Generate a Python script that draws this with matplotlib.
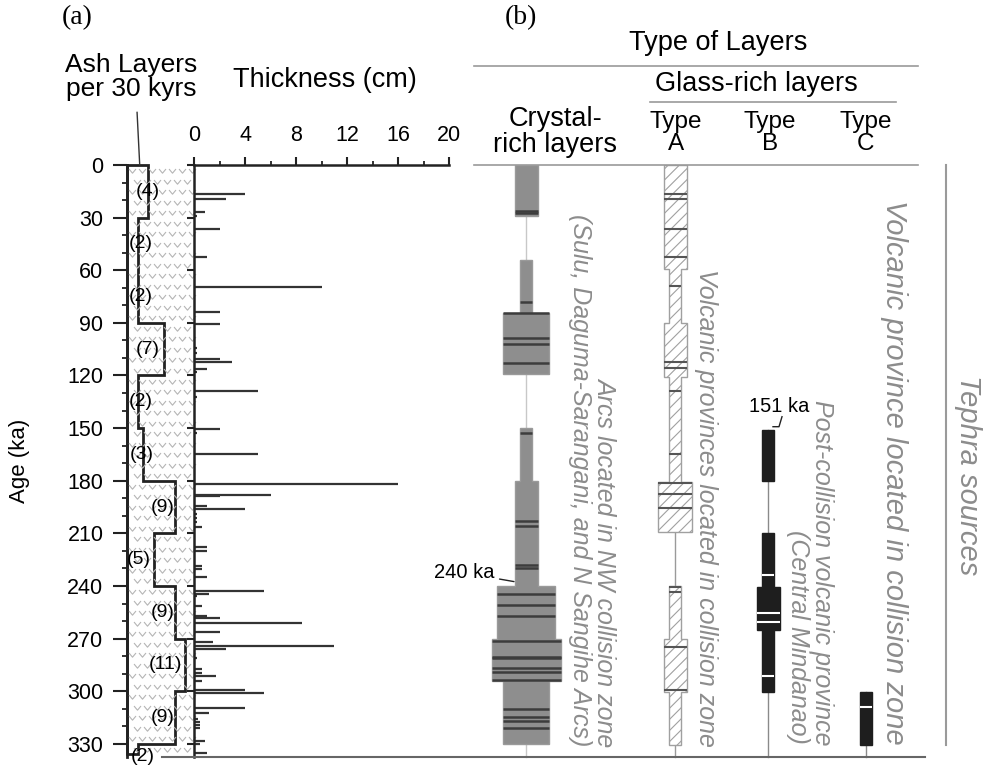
import numpy as np
import matplotlib
matplotlib.use("Agg")
import matplotlib.pyplot as plt
from matplotlib.path import Path
from matplotlib.patches import Polygon
from matplotlib.lines import Line2D
from matplotlib.ticker import MultipleLocator, NullLocator

plt.rcParams['font.family'] = ['Liberation Sans', 'DejaVu Sans']
plt.rcParams['hatch.linewidth'] = 0.8

# ---------------- data ----------------
# ash layers counted per 30 kyr interval (last interval is the short basal one)
ash_edges = [0, 30, 60, 90, 120, 150, 180, 210, 240, 270, 300, 330, 336]
ash_counts = [4, 2, 2, 7, 2, 3, 9, 5, 9, 11, 9, 2]

# individual ash layers: age (ka) and thickness (cm)
thick_age = [16.7, 19.4, 26.6, 29.3, 36.3, 52.4, 69.4, 83.8, 90.9, 104.5,
             107.4, 110.8, 112.3, 116.3, 117.8, 128.6, 132.3, 150.3, 153.0, 164.8,
             181.7, 188.3, 188.9, 194.4, 196.1, 199.2, 201.5, 203.4, 206.4, 218.0,
             219.9, 228.8, 230.3, 234.7, 243.1, 244.8, 245.6, 251.2, 256.9, 258.5,
             261.1, 266.1, 271.8, 274.2, 275.9, 280.9, 287.5, 289.4, 291.3, 294.0,
             299.1, 300.8, 309.3, 312.3, 315.8, 317.6, 319.4, 321.1, 328.4, 330.0,
             335.4]
thick_cm = [4.0, 2.5, 0.85, 0.25, 2.0, 1.05, 10.0, 2.0, 2.0, 0.2,
            0.2, 2.0, 3.0, 1.05, 0.25, 5.0, 0.2, 2.0, 0.2, 5.0,
            16.0, 6.0, 2.0, 1.05, 4.0, 0.25, 0.25, 0.25, 0.6, 1.05,
            1.05, 0.6, 0.6, 1.05, 5.5, 1.2, 0.2, 0.6, 1.05, 2.0,
            8.5, 2.0, 1.5, 11.0, 2.5, 0.2, 0.65, 0.65, 1.75, 0.6,
            4.0, 5.5, 4.0, 1.2, 0.3, 0.5, 0.5, 0.45, 0.9, 0.45,
            1.05]

age_ticks = list(range(0, 331, 30))
thick_ticks = [0, 4, 8, 12, 16, 20]

# layer-type intervals: (top ka, bottom ka, relative frequency)
crystal_segs = [(0, 29, 2), (54.2, 84.5, 1), (84.5, 119, 4), (149.8, 180, 1),
                (180, 240, 2), (240, 270.4, 5), (270.4, 294, 6), (294, 330, 4)]
crystal_lines = [26.2, 27.5, 78.3, 84.6, 98.8, 102.2, 112.7, 152.6, 203, 205.8,
                 228, 229.6, 244.6, 250.9, 257.0, 271.2, 280.3, 281.2, 286.9,
                 289.2, 293.6, 310.3, 314.5, 316.8, 320.8]

typeA_segs = [(0, 59.5, 2), (59.5, 90.3, 1), (90.3, 120.7, 2), (120.7, 180.5, 1),
              (180.5, 209, 3), (240, 270.4, 1), (270.4, 300.3, 2), (300.3, 330.7, 1)]
typeA_lines = [16.7, 19.4, 36.5, 52.3, 69.0, 112.5, 115.9, 128.6, 164.8, 181.1,
               187.7, 195.7, 240.4, 243.2, 274.6, 299.3]

typeB_segs = [(151, 180.2, 1), (210, 240.4, 1), (240.4, 265, 2), (265, 300.2, 1)]
typeB_lines = [234, 255.6, 260.4, 291.6]

typeC_segs = [(300.2, 330.7, 1)]
typeC_lines = [308.8]

# ---------------- layout helpers ----------------
W, H = 992, 765
AGE_MAX = 337.5
fig = plt.figure(figsize=(W / 100, H / 100), dpi=100)


def px_axes(l, t, r, b):
    return fig.add_axes([l / W, 1 - b / H, (r - l) / W, (b - t) / H])


def ftext(x, y, s, **kw):
    kw.setdefault('ha', 'center')
    kw.setdefault('va', 'center')
    return fig.text(x / W, 1 - y / H, s, **kw)


def fline(x0, x1, y0, y1, **kw):
    fig.add_artist(Line2D([x0 / W, x1 / W], [1 - y0 / H, 1 - y1 / H],
                          transform=fig.transFigure, **kw))


# ---------------- (a) ash layers per 30 kyr ----------------
PX_PER_LAYER = 5.3
ax_ash = px_axes(127, 165, 194, 757)
ax_ash.set_xlim(0, 67 / PX_PER_LAYER)
ax_ash.set_ylim(AGE_MAX, 0)
for s in ['top', 'right', 'bottom']:
    ax_ash.spines[s].set_visible(False)
ax_ash.spines['left'].set_linewidth(2)
ax_ash.spines['left'].set_color('#222222')
ax_ash.set_xticks([])
ax_ash.set_yticks(age_ticks)
ax_ash.yaxis.set_minor_locator(MultipleLocator(10))
ax_ash.tick_params(axis='y', which='major', length=10, width=1.5, pad=7,
                   labelsize=15.5, color='#222222')
ax_ash.tick_params(axis='y', which='minor', length=3.6, width=1.3, color='#222222')
ax_ash.set_ylabel('Age (ka)', fontsize=16)
ax_ash.yaxis.set_label_coords(-1.45, 0.5)
ax_ash.patch.set_alpha(0)

ys = np.repeat(ash_edges, 2)[1:-1]
xs = np.repeat(ash_counts, 2)
verts = [(0, ash_edges[0])] + list(zip(xs, ys)) + [(0, ash_edges[-1])]
ash_poly = Polygon(verts, closed=True, facecolor='white', edgecolor='#222222',
                   linewidth=2, zorder=2, clip_on=False)
ax_ash.add_patch(ash_poly)

# chevron fill pattern
vpath = Path([(-1, 1), (0, -0.2), (1, 1)], [Path.MOVETO, Path.LINETO, Path.LINETO])
gx, gy = [], []
for i, yy in enumerate(np.arange(4, AGE_MAX, 6.0)):
    off = 0.95 if i % 2 else 0.0
    for xx in np.arange(0.9 + off, 12.5, 1.9):
        gx.append(xx)
        gy.append(yy)
pat, = ax_ash.plot(gx, gy, linestyle='none', marker=vpath, markersize=5,
                   markerfacecolor='none', markeredgecolor='#b5b5b5',
                   markeredgewidth=0.8, zorder=3, clip_on=False)
pat.set_clip_path(ash_poly)

label_x = [4.0, 2.6, 2.6, 4.0, 2.6, 2.8, 6.8, 2.3, 6.8, 7.2, 6.8, 2.9]
for i, n in enumerate(ash_counts):
    mid = (ash_edges[i] + ash_edges[i + 1]) / 2
    if i == len(ash_counts) - 1:
        mid = 337
    ax_ash.text(label_x[i], mid, f'({n})', fontsize=14, ha='center',
                va='center', zorder=4, clip_on=False)

ax_ash.plot([1.9, 2.4], [-30, 0], color='#333333', lw=1, clip_on=False)
ftext(131, 77, 'Ash Layers\nper 30 kyrs', fontsize=19, linespacing=1.05)

# ---------------- (a) thickness ----------------
ax_th = px_axes(194, 165, 449, 757)
ax_th.set_xlim(0, 20)
ax_th.set_ylim(AGE_MAX, 0)
ax_th.patch.set_alpha(0)
for s in ['right', 'bottom']:
    ax_th.spines[s].set_visible(False)
for s in ['left', 'top']:
    ax_th.spines[s].set_linewidth(1.8)
    ax_th.spines[s].set_color('#222222')
ax_th.xaxis.set_ticks_position('top')
ax_th.xaxis.set_label_position('top')
ax_th.set_xticks(thick_ticks)
ax_th.xaxis.set_minor_locator(MultipleLocator(2))
ax_th.tick_params(axis='x', which='major', length=5.8, width=1.5, pad=8,
                  labelsize=15.5, color='#222222')
ax_th.tick_params(axis='x', which='minor', length=3, width=1.3, color='#222222')
ax_th.set_yticks(age_ticks)
ax_th.set_yticklabels([])
ax_th.yaxis.set_minor_locator(NullLocator())
ax_th.tick_params(axis='y', which='major', length=5, width=1.5, color='#222222')
ax_th.hlines(thick_age, 0, thick_cm, color='#333333', lw=1.6)
ftext(325, 80, 'Thickness (cm)', fontsize=19.5)

# ---------------- (b) layer types ----------------
ax_b = px_axes(470, 165, 935, 757)
ax_b.set_xlim(470, 935)
ax_b.set_ylim(AGE_MAX, 0)
ax_b.axis('off')

UNIT = 5.75


def seg_width(segs, age):
    for top, bot, w in segs:
        if top - 0.5 <= age <= bot:
            return w
    return 1


def draw_column(segs, lines, cx, face, edge, line_color, line_lw,
                conn_color, hatch=None):
    ax_b.plot([cx, cx], [segs[0][0], AGE_MAX], color=conn_color, lw=1,
              zorder=1, clip_on=False)
    runs, cur = [], [segs[0]]
    for s in segs[1:]:
        if abs(s[0] - cur[-1][1]) < 1e-6:
            cur.append(s)
        else:
            runs.append(cur)
            cur = [s]
    runs.append(cur)
    for run in runs:
        right = []
        for top, bot, w in run:
            right += [(cx + w * UNIT, top), (cx + w * UNIT, bot)]
        left = [(2 * cx - x, y) for x, y in reversed(right)]
        ax_b.add_patch(Polygon(right + left, closed=True, facecolor=face,
                               edgecolor=edge, hatch=hatch, lw=1, zorder=2))
    for a in lines:
        w = seg_width(segs, a) * UNIT
        ax_b.plot([cx - w, cx + w], [a, a], color=line_color, lw=line_lw,
                  zorder=3, solid_capstyle='butt')


draw_column(crystal_segs, crystal_lines, 526, '#8e8e8e', '#9a9a9a',
            '#3c3c3c', 1.8, '#c8c8c8')
draw_column(typeA_segs, typeA_lines, 675, 'white', '#a0a0a0',
            '#555555', 1.5, '#9a9a9a', hatch='///')
draw_column(typeB_segs, typeB_lines, 768, '#1e1e1e', '#1e1e1e',
            'white', 1.5, '#8a8a8a')
draw_column(typeC_segs, typeC_lines, 866, '#1e1e1e', '#1e1e1e',
            'white', 1.5, '#8a8a8a')

ax_b.annotate('240 ka', xy=(514, 237.5), xytext=(494, 232.5), ha='right',
              va='center', fontsize=14.5,
              arrowprops=dict(arrowstyle='-', lw=1, color='#222222',
                              shrinkA=2, shrinkB=0))
ax_b.plot([782, 779, 773], [143.5, 149.2, 149.2], color='#222222', lw=1,
          clip_on=False)
ax_b.text(779, 143, '151 ka', ha='center', va='bottom', fontsize=14.5)

# header and frame lines
fline(474, 918, 66, 66, color='#9a9a9a', lw=1.2)
fline(650, 896, 101.7, 101.7, color='#9a9a9a', lw=1.2)
fline(474, 918, 165, 165, color='#9a9a9a', lw=1.2)
fline(162, 925, 757, 757, color='#666666', lw=1.5)
fline(946, 946, 165, 745, color='#9a9a9a', lw=1.5)

ftext(77, 18, '(a)', fontsize=20, family=['Liberation Serif', 'DejaVu Serif'])
ftext(521, 18, '(b)', fontsize=20, family=['Liberation Serif', 'DejaVu Serif'])
ftext(718, 43, 'Type of Layers', fontsize=19.5)
ftext(756, 84, 'Glass-rich layers', fontsize=19.5)
ftext(555, 132, 'Crystal-\nrich layers', fontsize=19.5, linespacing=1.05)
for x, t in [(676, 'A'), (770, 'B'), (866, 'C')]:
    ftext(x, 133, f'Type\n{t}', fontsize=17.5, linespacing=1.0)

gray = dict(color='#8c8c8c', style='italic', fontsize=18, rotation=-90,
            ha='center', va='bottom')
ftext(605, 746, 'Arcs located in NW collision zone', **gray)
ftext(580, 746, '(Sulu, Daguma-Sarangani, and N Sangihe Arcs)', **gray)
ftext(706, 747, 'Volcanic provinces located in collision zone', **gray)
ftext(822, 745, 'Post-collision volcanic province', **gray)
ftext(798, 744, '(Central Mindanao)', **gray)
ftext(894, 745, 'Volcanic province located in collision zone',
      **{**gray, 'fontsize': 21})
ftext(968, 475, 'Tephra sources', color='#8c8c8c', style='italic',
      fontsize=21, rotation=-90, ha='center', va='center')

fig.savefig('out.png', dpi=100)
